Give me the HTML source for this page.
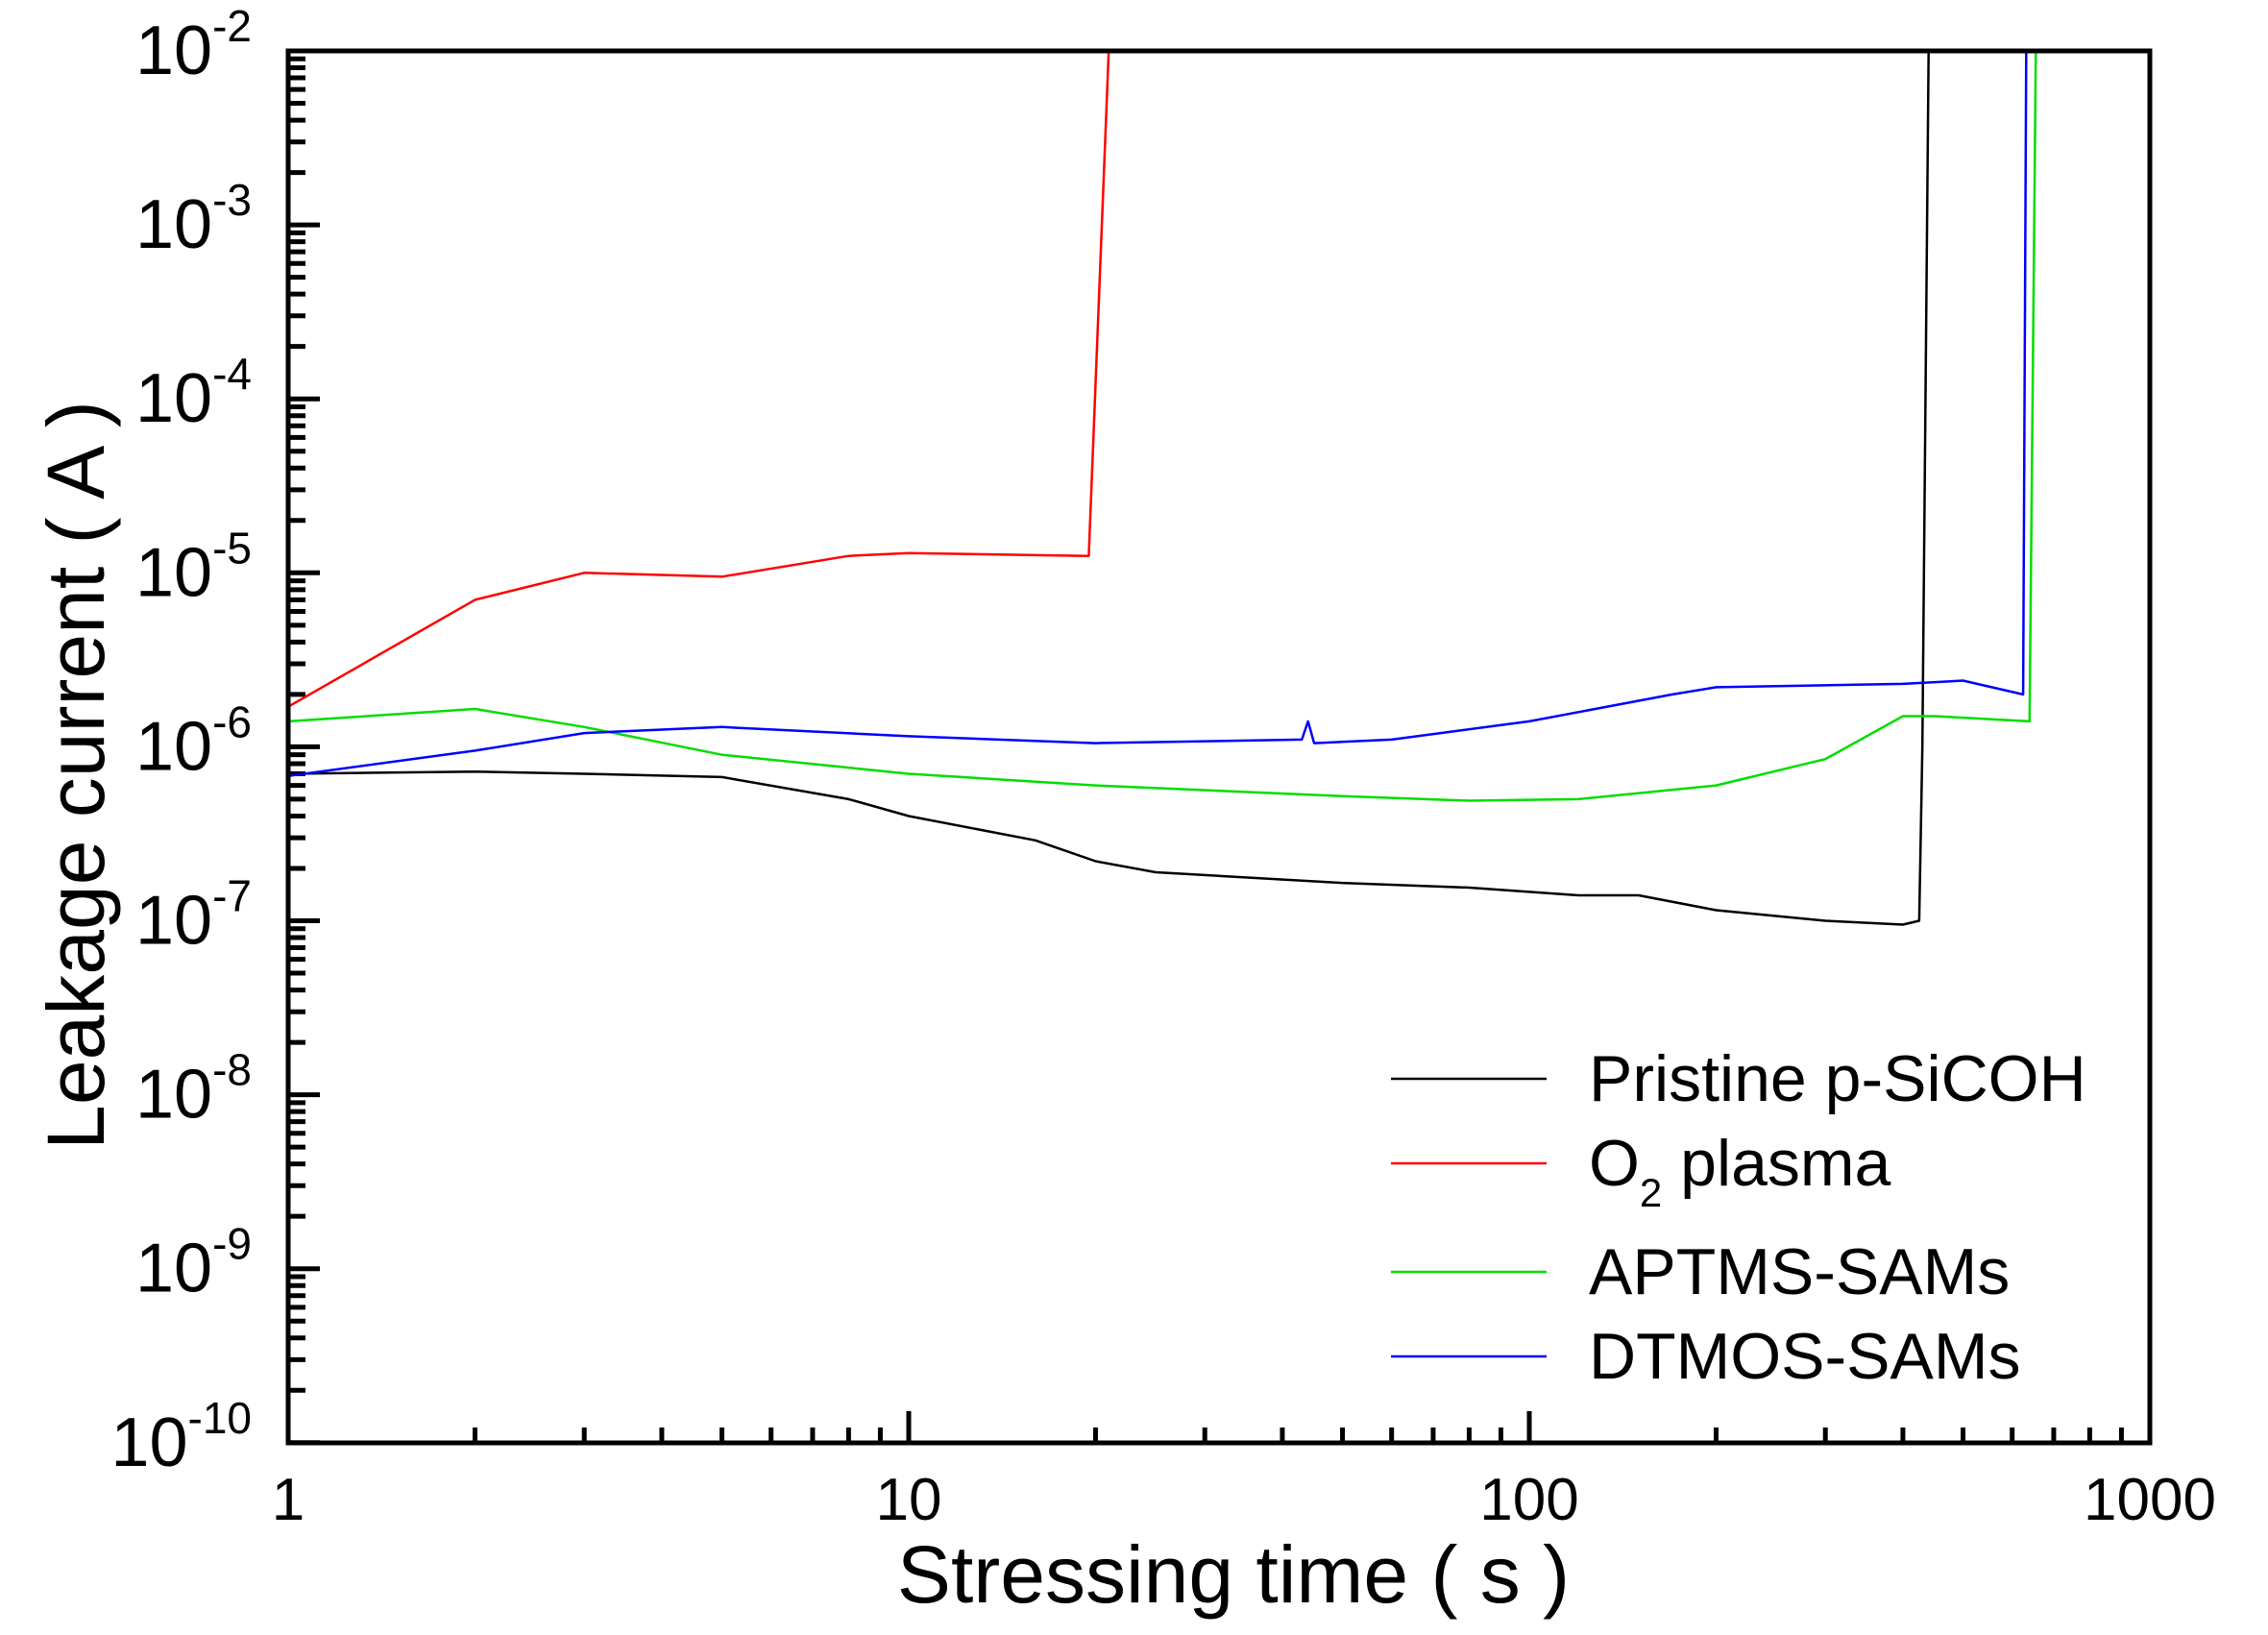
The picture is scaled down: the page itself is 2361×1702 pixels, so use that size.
<!DOCTYPE html>
<html><head><meta charset="utf-8"><style>
html,body{margin:0;padding:0;background:#fff;}
svg{display:block;font-family:"Liberation Sans",Arial,sans-serif;}
</style></head><body>
<svg id="s" width="2361" height="1702" viewBox="0 0 2361 1702" xmlns="http://www.w3.org/2000/svg">
<g id="ticks" stroke="#000" stroke-width="5"></g>
<g id="data" fill="none" stroke-width="2.5" stroke-linejoin="round"></g>
<rect x="300" y="53" width="1938" height="1449" fill="none" stroke="#000" stroke-width="5"/>
<g font-size="72" fill="#000" id="labels"></g>
<text x="1284" y="1668" font-size="84" text-anchor="middle">Stressing time ( s )</text>
<text transform="translate(108,807) rotate(-90)" font-size="84" text-anchor="middle">Leakage current ( A )</text>
<g stroke-width="2.5">
<line x1="1448" y1="1123" x2="1610" y2="1123" stroke="#000"/>
<line x1="1448" y1="1211" x2="1610" y2="1211" stroke="#f00"/>
<line x1="1448" y1="1324" x2="1610" y2="1324" stroke="#0d0"/>
<line x1="1448" y1="1412" x2="1610" y2="1412" stroke="#00f"/>
</g>
<g font-size="68" fill="#000">
<text x="1654" y="1146">Pristine p-SiCOH</text>
<text x="1654" y="1234">O<tspan font-size="42" dy="22">2</tspan><tspan dy="-22"> plasma</tspan></text>
<text x="1654" y="1347">APTMS-SAMs</text>
<text x="1654" y="1435">DTMOS-SAMs</text>
</g>
</svg>
<script>
const X=t=>300+646*Math.log10(t), Y=v=>53+181.1*(-2-Math.log10(v));
const NS="http://www.w3.org/2000/svg";
function el(p,tag,a,txt){const e=document.createElementNS(NS,tag);for(const k in a)e.setAttribute(k,a[k]);if(txt!==undefined)e.innerHTML=txt;p.appendChild(e);return e;}
const tk=document.getElementById('ticks'),lb=document.getElementById('labels');
for(let d=-10;d<-2;d++){for(let m=1;m<10;m++){const y=Y(m*Math.pow(10,d));el(tk,'line',{x1:300,x2:300+(m==1?33:18),y1:y,y2:y});}}
for(let d=0;d<3;d++){for(let m=1;m<10;m++){const x=X(m*Math.pow(10,d));el(tk,'line',{y1:1502,y2:1502-(m==1?33:16),x1:x,x2:x});}}
for(let d=-10;d<=-2;d++){const y=Y(Math.pow(10,d));el(lb,'text',{x:262,y:y+24,'text-anchor':'end'},'10<tspan font-size="46" dy="-34">'+d+'</tspan>');}
[1,10,100,1000].forEach(t=>el(lb,'text',{x:X(t),y:1582,'text-anchor':'middle','font-size':'62'},t));
const S={
'#000':[[1,7e-7],[2,7.2e-7],[3,7e-7],[5,6.7e-7],[8,5e-7],[10,4e-7],[16,2.9e-7],[20,2.2e-7],[25,1.9e-7],[50,1.65e-7],[80,1.55e-7],[120,1.4e-7],[150,1.4e-7],[200,1.15e-7],[300,1e-7],[400,9.5e-8],[425,1e-7],[430,1e-6],[440,1e-2]],
'#f00':[[1,1.7e-6],[2,7e-6],[3,1e-5],[5,9.5e-6],[8,1.25e-5],[10,1.3e-5],[19.5,1.25e-5],[21,1e-2],[95,1e-2]],
'#0d0':[[1,1.4e-6],[2,1.65e-6],[3,1.3e-6],[5,9e-7],[10,7e-7],[20,6e-7],[50,5.2e-7],[80,4.9e-7],[120,5e-7],[200,6e-7],[300,8.5e-7],[400,1.5e-6],[450,1.5e-6],[640,1.4e-6],[655,1e-2]],
'#00f':[[1,6.8e-7],[2,9.5e-7],[3,1.2e-6],[5,1.3e-6],[10,1.15e-6],[20,1.05e-6],[43,1.1e-6],[44,1.4e-6],[45,1.05e-6],[60,1.1e-6],[100,1.4e-6],[170,2e-6],[200,2.2e-6],[400,2.3e-6],[500,2.4e-6],[625,2e-6],[632,1e-2],[780,1e-2]]};
const g=document.getElementById('data');
for(const c in S){el(g,'polyline',{stroke:c,points:S[c].map(p=>X(p[0]).toFixed(1)+','+Y(p[1]).toFixed(1)).join(' ')});}
</script>
</body></html>
